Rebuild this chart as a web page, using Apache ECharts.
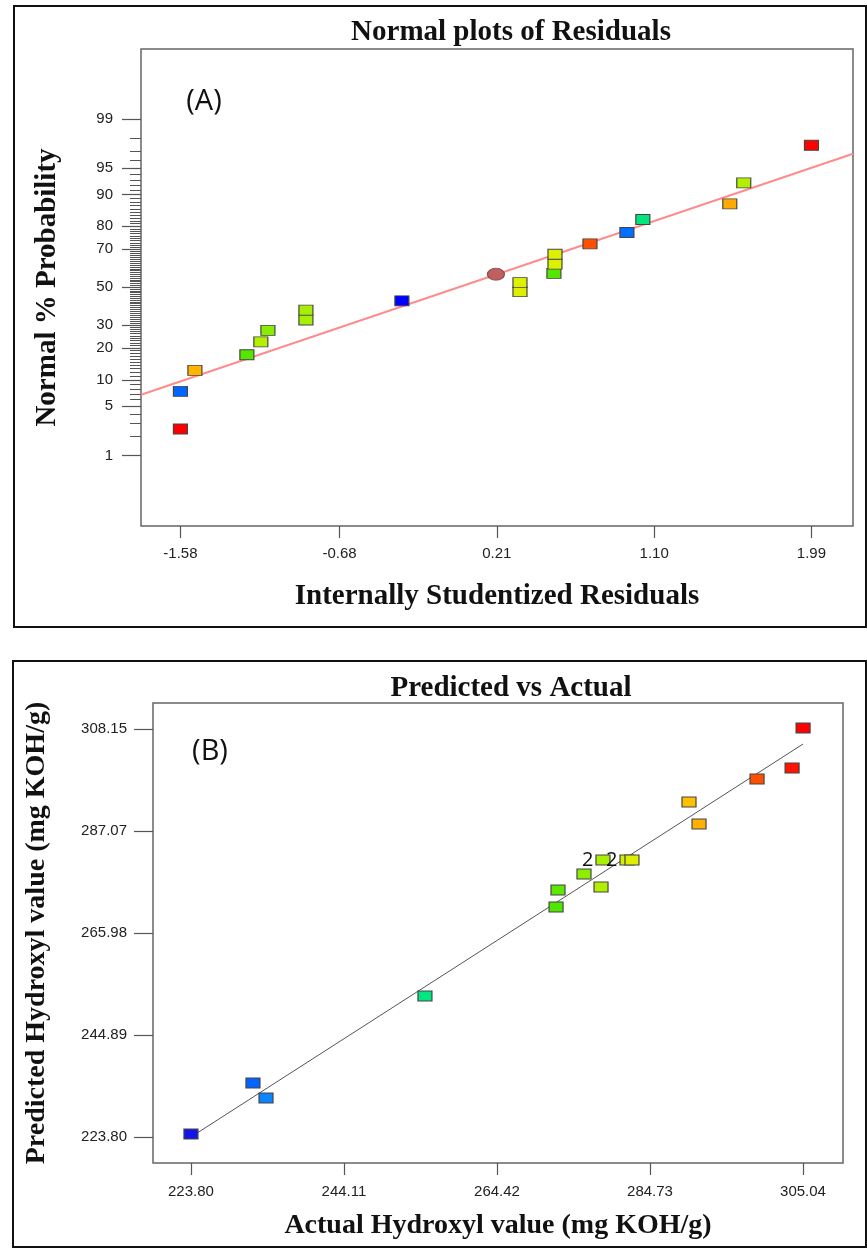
<!DOCTYPE html>
<html>
<head>
<meta charset="utf-8">
<script src="https://cdn.jsdelivr.net/npm/echarts@6.0.0/dist/echarts.min.js"></script>
<style>
  html, body { margin: 0; padding: 0; background: #fff; }
  #main { width: 867px; height: 1249px; }
</style>
</head>
<body>
<div id="main"></div>
<script>
// (A) normal plot of residuals
var resX = [-1.58, -1.58, -1.498, -1.204, -1.125, -1.085, -0.870, -0.870, -0.327, 0.341,
            0.341, 0.533, 0.539, 0.539, 0.737, 0.946, 1.036, 1.528, 1.607, 1.99];
var resP = [2.5, 7.5, 12.5, 17.5, 22.5, 27.5, 32.5, 37.5, 42.5, 47.5,
            52.5, 57.5, 62.5, 67.5, 72.5, 77.5, 82.5, 87.5, 92.5, 97.5];
var resColor = ['#ff0000', '#0066ff', '#ffb400', '#55e600', '#b4f000', '#88ee00', '#a8ee00', '#a8ee00', '#0000ff', '#dcf000',
                '#dcf000', '#55e600', '#dcf000', '#dcf000', '#ff5000', '#006eff', '#00e67a', '#ffaa00', '#b0f000', '#ff0000'];
var markX = [0.205];
var markP = [57.1];
var fitX = [-1.803, 2.225];
var fitP = [6.86, 96.73];
var resTicks = [-1.58, -0.68, 0.21, 1.10, 1.99];
var probLabels = [1, 5, 10, 20, 30, 50, 70, 80, 90, 95, 99];

// (B) predicted vs actual
var actX  = [223.80, 232.03, 233.76, 254.86, 272.26, 272.52, 275.97, 278.23, 278.49, 281.68, 282.34, 289.91, 291.24, 298.94, 303.59, 305.05];
var predY = [224.41, 234.96, 231.86, 252.95, 271.35, 274.86, 278.17, 275.48, 281.06, 281.06, 281.06, 293.06, 288.51, 297.81, 300.09, 308.36];
var predN = [1, 1, 1, 1, 1, 1, 1, 1, 2, 2, 1, 1, 1, 1, 1, 1];
var predColor = ['#1414e6', '#0064ff', '#0a84ff', '#00e680', '#50e600', '#5ee800', '#8cee00', '#b0f000', '#a8f000', '#d4f000',
                 '#dcf000', '#ffc000', '#ffb000', '#ff5000', '#ff1400', '#ff0000'];
var diagRange = [223.80, 305.04];
var actTicks = [223.80, 244.11, 264.42, 284.73, 305.04];
var predTicks = [223.80, 244.89, 265.98, 287.07, 308.15];

// inverse normal cdf (Acklam), used as the probability axis scale
function probit(p) {
  var a = [-3.969683028665376e+01, 2.209460984245205e+02, -2.759285104469687e+02, 1.383577518672690e+02, -3.066479806614716e+01, 2.506628277459239e+00];
  var b = [-5.447609879822406e+01, 1.615858368580409e+02, -1.556989798598866e+02, 6.680131188771972e+01, -1.328068155288572e+01];
  var c = [-7.784894002430293e-03, -3.223964580411365e-01, -2.400758277161838e+00, -2.549732539343734e+00, 4.374664141464968e+00, 2.938163982698783e+00];
  var d = [7.784695709041462e-03, 3.224671290700398e-01, 2.445134137142996e+00, 3.754408661907416e+00];
  var pl = 0.02425, q, r;
  if (p < pl) {
    q = Math.sqrt(-2 * Math.log(p));
    return (((((c[0]*q+c[1])*q+c[2])*q+c[3])*q+c[4])*q+c[5]) / ((((d[0]*q+d[1])*q+d[2])*q+d[3])*q+1);
  }
  if (p <= 1 - pl) {
    q = p - 0.5; r = q * q;
    return (((((a[0]*r+a[1])*r+a[2])*r+a[3])*r+a[4])*r+a[5])*q / (((((b[0]*r+b[1])*r+b[2])*r+b[3])*r+b[4])*r+1);
  }
  q = Math.sqrt(-2 * Math.log(1 - p));
  return -(((((c[0]*q+c[1])*q+c[2])*q+c[3])*q+c[4])*q+c[5]) / ((((d[0]*q+d[1])*q+d[2])*q+d[3])*q+1);
}
function z(pct) { return probit(pct / 100); }

var minorProb = [];
for (var k = 1; k <= 99; k++) minorProb.push(z(k));
var majorProb = probLabels.map(z);

var tickFont = { fontFamily: 'Liberation Sans', fontSize: 15, color: '#222' };
var nameFont = { fontFamily: 'Liberation Serif', fontWeight: 'bold', fontSize: 29, color: '#111' };
var tickLine = { color: '#555', width: 1.2 };
var noLine = { show: false, onZero: false };

var myChart = echarts.init(document.getElementById('main'));
var option = {
  animation: false,
  backgroundColor: '#fff',
  grid: [
    { left: 141, top: 49, width: 712, height: 477, show: true, borderColor: '#666', borderWidth: 1.5, backgroundColor: 'transparent', outerBoundsMode: 'none' },
    { left: 153, top: 703, width: 690, height: 460, show: true, borderColor: '#666', borderWidth: 1.5, backgroundColor: 'transparent', outerBoundsMode: 'none' }
  ],
  xAxis: [
    {
      gridIndex: 0, type: 'value', position: 'bottom', min: -1.803, max: 2.225,
      axisLine: noLine,
      axisTick: { show: true, customValues: resTicks, length: 12, lineStyle: tickLine },
      axisLabel: { customValues: resTicks, margin: 20, formatter: function (v) { return v.toFixed(2); }, fontFamily: tickFont.fontFamily, fontSize: tickFont.fontSize, color: tickFont.color },
      splitLine: { show: false },
      name: 'Internally Studentized Residuals', nameLocation: 'middle', nameGap: 56, nameTextStyle: nameFont
    },
    {
      gridIndex: 1, type: 'value', position: 'bottom', min: 218.76, max: 310.35,
      axisLine: noLine,
      axisTick: { show: true, customValues: actTicks, length: 12, lineStyle: tickLine },
      axisLabel: { customValues: actTicks, margin: 21, formatter: function (v) { return v.toFixed(2); }, fontFamily: tickFont.fontFamily, fontSize: tickFont.fontSize, color: tickFont.color },
      splitLine: { show: false },
      name: 'Actual Hydroxyl value (mg KOH/g)', nameLocation: 'middle', nameGap: 49, nameTextStyle: { fontFamily: 'Liberation Serif', fontWeight: 'bold', fontSize: 28, color: '#111' }
    }
  ],
  yAxis: [
    {
      gridIndex: 0, type: 'value', position: 'left', offset: 0, min: -3.30, max: 3.29,
      axisLine: noLine,
      axisTick: { show: true, customValues: minorProb, length: 11, lineStyle: { color: '#555', width: 1 } },
      axisLabel: { show: false },
      splitLine: { show: false },
      name: 'Normal % Probability', nameLocation: 'middle', nameGap: 79, nameTextStyle: nameFont
    },
    {
      gridIndex: 0, type: 'value', position: 'left', offset: 0, min: -3.30, max: 3.29,
      axisLine: noLine,
      axisTick: { show: true, customValues: majorProb, length: 19, lineStyle: tickLine },
      axisLabel: {
        customValues: majorProb, margin: 28,
        formatter: function (v) {
          for (var i = 0; i < probLabels.length; i++) {
            if (Math.abs(majorProb[i] - v) < 1e-6) return String(probLabels[i]);
          }
          return '';
        },
        fontFamily: tickFont.fontFamily, fontSize: tickFont.fontSize, color: tickFont.color
      },
      splitLine: { show: false }
    },
    {
      gridIndex: 1, type: 'value', position: 'left', min: 218.42, max: 313.53,
      axisLine: noLine,
      axisTick: { show: true, customValues: predTicks, length: 19, lineStyle: tickLine },
      axisLabel: { customValues: predTicks, margin: 26, formatter: function (v) { return v.toFixed(2); }, fontFamily: tickFont.fontFamily, fontSize: tickFont.fontSize, color: tickFont.color },
      splitLine: { show: false },
      name: 'Predicted Hydroxyl value (mg KOH/g)', nameLocation: 'middle', nameGap: 102, nameTextStyle: { fontFamily: 'Liberation Serif', fontWeight: 'bold', fontSize: 28, color: '#111' }
    }
  ],
  series: [
    {
      type: 'line', xAxisIndex: 0, yAxisIndex: 0, silent: true, showSymbol: false, z: 1,
      lineStyle: { color: '#ff8c8c', width: 2 },
      data: fitX.map(function (x, i) { return [x, z(fitP[i])]; })
    },
    {
      type: 'scatter', xAxisIndex: 0, yAxisIndex: 0, symbol: 'rect', symbolSize: [14, 10], z: 3,
      itemStyle: { borderColor: '#444', borderWidth: 1, opacity: 1 },
      data: resX.map(function (x, i) { return { value: [x, z(resP[i])], itemStyle: { color: resColor[i] } }; })
    },
    {
      type: 'scatter', xAxisIndex: 0, yAxisIndex: 0, symbol: 'circle', symbolSize: [17, 12], z: 3,
      itemStyle: { color: '#c0605e', borderColor: '#7a4a4a', borderWidth: 1, opacity: 1 },
      data: markX.map(function (x, i) { return [x, z(markP[i])]; })
    },
    {
      type: 'line', xAxisIndex: 1, yAxisIndex: 2, silent: true, showSymbol: false, z: 1,
      lineStyle: { color: '#555', width: 1 },
      data: diagRange.map(function (v) { return [v, v]; })
    },
    {
      type: 'scatter', xAxisIndex: 1, yAxisIndex: 2, symbol: 'rect', symbolSize: [14, 10], z: 3,
      itemStyle: { borderColor: '#444', borderWidth: 1, opacity: 1 },
      data: actX.map(function (x, i) {
        return {
          value: [x, predY[i]],
          itemStyle: { color: predColor[i] },
          label: {
            show: predN[i] > 1, position: 'left', distance: 2,
            formatter: String(predN[i]),
            fontFamily: 'Open Sans', fontSize: 20, color: '#111'
          }
        };
      })
    }
  ],
  graphic: [
    { type: 'rect', shape: { x: 14, y: 6, width: 852, height: 621 }, style: { fill: 'none', stroke: '#111', lineWidth: 2 }, silent: true },
    { type: 'rect', shape: { x: 13, y: 661, width: 853, height: 586 }, style: { fill: 'none', stroke: '#111', lineWidth: 2 }, silent: true },
    { type: 'text', x: 511, y: 33, style: { text: 'Normal plots of Residuals', align: 'center', verticalAlign: 'middle', fontFamily: 'Liberation Serif', fontWeight: 'bold', fontSize: 29, fill: '#111' } },
    { type: 'text', x: 511, y: 689, style: { text: 'Predicted vs Actual', align: 'center', verticalAlign: 'middle', fontFamily: 'Liberation Serif', fontWeight: 'bold', fontSize: 29, fill: '#111' } },
    { type: 'text', x: 204, y: 102, style: { text: '(A)', align: 'center', verticalAlign: 'middle', fontFamily: 'Open Sans', fontSize: 29, fill: '#111' } },
    { type: 'text', x: 210, y: 752, style: { text: '(B)', align: 'center', verticalAlign: 'middle', fontFamily: 'Open Sans', fontSize: 29, fill: '#111' } }
  ]
};
myChart.setOption(option);
window.addEventListener('resize', function () { myChart.resize(); }, false);
</script>
</body>
</html>
